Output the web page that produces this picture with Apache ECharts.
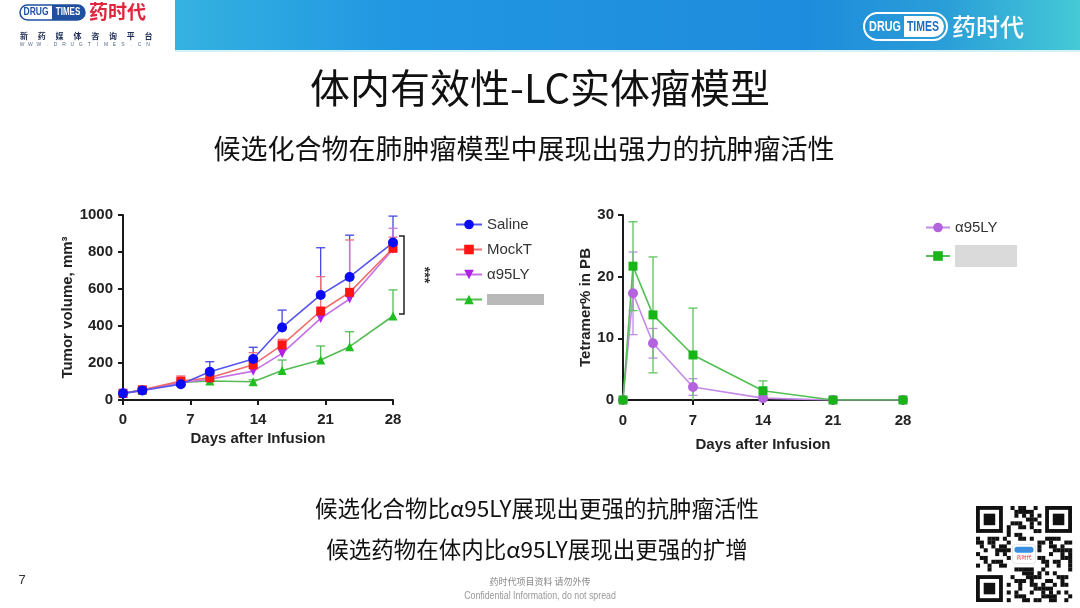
<!DOCTYPE html>
<html><head><meta charset="utf-8">
<script src="https://cdn.jsdelivr.net/npm/echarts@6/dist/echarts.min.js"></script>
<style>html,body{margin:0;padding:0;background:#fff}#c{width:1080px;height:608px}</style>
</head><body><div id="c"></div>
<script>
// ---------- data ----------
const dayTicks = [0, 7, 14, 21, 28];
const tumorTicks = [0, 200, 400, 600, 800, 1000];
const pbTicks = [0, 10, 20, 30];

const tumorDays = [0, 2, 6, 9, 13.5, 16.5, 20.5, 23.5, 28];
const salineMean = [36, 52, 85, 153, 222, 392, 568, 665, 851];
const salineErr  = [8, 10, 12, 54, 63, 94, 255, 226, 143];
const mockTMean  = [35, 55, 102, 120, 190, 298, 481, 582, 820];
const mockTErr   = [6, 10, 28, 15, 66, 30, 186, 283, 60];
const a95TumorMean = [36, 52, 95, 112, 156, 252, 441, 546, 815];
const a95TumorErr  = [5, 8, 15, 12, 20, 30, 40, 45, 113];
const candTumorMean = [36, 52, 95, 103, 99, 159, 216, 288, 454];
const candTumorErr  = [5, 6, 10, 8, 10, 57, 76, 81, 141];

const pbDays = [0, 1, 3, 7, 14, 21, 28];
const a95PbMean = [0, 17.3, 9.2, 2.1, 0.3, 0, 0];
const a95PbErr  = [0, 6.7, 2.4, 1.35, 0.3, 0, 0];
const candPbMean = [0, 21.7, 13.8, 7.3, 1.5, 0, 0];
const candPbErr  = [0, 7.2, 9.4, 7.6, 1.6, 0, 0];

const tumorNames = ['Saline', 'MockT', 'α95LY', '候选药物'];
const pbNames = ['α95LY ', '候选药物 '];
const BLUR_NAMES = ['候选药物', '候选药物 '];

// ---------- styles ----------
const FL = '"Liberation Sans", Arial, sans-serif';
const FC = '"Noto Sans CJK SC", sans-serif';
const AX = '#1a1a1a';

function xAx(gi, margin, gap) {
  return {
    type: 'value', gridIndex: gi, min: dayTicks[0], max: dayTicks[dayTicks.length - 1],
    interval: dayTicks[1] - dayTicks[0],
    name: 'Days after Infusion', nameLocation: 'middle', nameGap: gap,
    nameTextStyle: { fontFamily: FL, fontWeight: 'bold', fontSize: 15, color: '#222' },
    axisLine: { show: true, onZero: false, lineStyle: { color: AX, width: 2 } },
    axisTick: { show: true, length: 5, lineStyle: { color: AX, width: 2 } },
    axisLabel: { margin, fontFamily: FL, fontWeight: 'bold', fontSize: 15, color: '#222', formatter: v => String(v) },
    splitLine: { show: false }
  };
}
function yAx(gi, ticks, name, margin, gap) {
  return {
    type: 'value', gridIndex: gi, min: ticks[0], max: ticks[ticks.length - 1],
    interval: ticks[1] - ticks[0],
    name, nameLocation: 'middle', nameGap: gap,
    nameTextStyle: { fontFamily: FL, fontWeight: 'bold', fontSize: 15, color: '#222' },
    axisLine: { show: true, onZero: false, lineStyle: { color: AX, width: 2 } },
    axisTick: { show: true, length: 5, lineStyle: { color: AX, width: 2 } },
    axisLabel: { margin, fontFamily: FL, fontWeight: 'bold', fontSize: 15, color: '#222', formatter: v => String(v) },
    splitLine: { show: false }
  };
}
function lineS(name, gi, days, mean, symbol, size, mColor, lColor, rotate) {
  return {
    type: 'line', name, xAxisIndex: gi, yAxisIndex: gi, z: 3,
    data: days.map((d, i) => [d, mean[i]]),
    symbol, symbolSize: size, symbolRotate: rotate || 0, showAllSymbol: true,
    itemStyle: { color: mColor },
    lineStyle: { color: lColor, width: 1.6 },
    emphasis: { disabled: true }, animation: false
  };
}
function errS(gi, days, mean, err, color, both) {
  return {
    type: 'custom', xAxisIndex: gi, yAxisIndex: gi, z: 2, silent: true, animation: false,
    data: days.map((d, i) => [d, mean[i], err[i]]),
    renderItem(params, api) {
      const x = api.value(0), m = api.value(1), e = api.value(2);
      if (!e) return null;
      const top = api.coord([x, m + e]);
      const lowV = both ? Math.max(0, m - e) : m;
      const bot = api.coord([x, lowV]);
      const w = 4.5, st = { stroke: color, lineWidth: 1.3 };
      const ch = [
        { type: 'line', shape: { x1: top[0], y1: top[1], x2: bot[0], y2: bot[1] }, style: st },
        { type: 'line', shape: { x1: top[0] - w, y1: top[1], x2: top[0] + w, y2: top[1] }, style: st }
      ];
      if (both && m - e > 0) ch.push({ type: 'line', shape: { x1: bot[0] - w, y1: bot[1], x2: bot[0] + w, y2: bot[1] }, style: st });
      return { type: 'group', children: ch };
    }
  };
}

// ---------- header / decoration graphics ----------
const g = [];
g.push({ type: 'rect', shape: { x: 175, y: 0, width: 905, height: 50 }, z: -10,
  style: { fill: new echarts.graphic.LinearGradient(0, 0, 1, 0, [
    { offset: 0, color: '#34b2e0' }, { offset: 0.25, color: '#2196e2' },
    { offset: 0.7, color: '#1e8cdc' }, { offset: 0.85, color: '#2a9ed8' }, { offset: 1, color: '#45c9d6' }]) } });
g.push({ type: 'rect', shape: { x: 175, y: 50, width: 905, height: 2 }, z: -10, style: { fill: '#d7f1f8' } });
// left logo
g.push({ type: 'rect', shape: { x: 20, y: 5, width: 65, height: 15, r: 7.5 }, style: { fill: '#fff', stroke: '#1f4f9e', lineWidth: 1.5 } });
g.push({ type: 'rect', shape: { x: 52, y: 5, width: 33, height: 15, r: [0, 7.5, 7.5, 0] }, style: { fill: '#1f4f9e' } });
g.push({ type: 'text', x: 36, y: 12.5, scaleX: 0.85, style: { text: 'DRUG', fill: '#1f4f9e', font: 'bold 10px ' + FL, align: 'center', verticalAlign: 'middle' } });
g.push({ type: 'text', x: 68, y: 12.5, scaleX: 0.8, style: { text: 'TIMES', fill: '#fff', font: 'bold 10px ' + FL, align: 'center', verticalAlign: 'middle' } });
g.push({ type: 'text', x: 89, y: 12, style: { text: '药时代', fill: '#e0263c', font: 'bold 19px ' + FC, verticalAlign: 'middle' } });
'新药媒体咨询平台'.split('').forEach((c, i) => g.push({ type: 'text', x: 24 + i * 17.8, y: 36, style: { text: c, fill: '#1d2c55', font: 'bold 8px ' + FC, align: 'center', verticalAlign: 'middle' } }));
'WWW.DRUGTIMES.CN'.split('').forEach((c, i) => g.push({ type: 'text', x: 22 + i * 8.4, y: 45, style: { text: c, fill: '#5a6a8a', font: '5px ' + FL, align: 'center', verticalAlign: 'middle' } }));
// right logo
g.push({ type: 'rect', shape: { x: 864, y: 13, width: 83, height: 27, r: 13.5 }, style: { fill: 'rgba(0,0,0,0)', stroke: '#fff', lineWidth: 2 } });
g.push({ type: 'rect', shape: { x: 904, y: 16, width: 40, height: 21, r: [0, 10.5, 10.5, 0] }, style: { fill: '#fff' } });
g.push({ type: 'text', x: 885, y: 26.5, scaleX: 0.72, style: { text: 'DRUG', fill: '#fff', font: 'bold 15px ' + FL, align: 'center', verticalAlign: 'middle' } });
g.push({ type: 'text', x: 923, y: 26.5, scaleX: 0.7, style: { text: 'TIMES', fill: '#1f6fc0', font: 'bold 15px ' + FL, align: 'center', verticalAlign: 'middle' } });
g.push({ type: 'text', x: 952, y: 27, style: { text: '药时代', fill: '#fff', font: '500 24px ' + FC, verticalAlign: 'middle' } });
// titles
g.push({ type: 'text', x: 540, y: 88, style: { text: '体内有效性-LC实体瘤模型', fill: '#111', font: '400 40px ' + FC, align: 'center', verticalAlign: 'middle' } });
g.push({ type: 'text', x: 524, y: 149, style: { text: '候选化合物在肺肿瘤模型中展现出强力的抗肿瘤活性', fill: '#111', font: '27px ' + FC, align: 'center', verticalAlign: 'middle' } });
g.push({ type: 'text', x: 537, y: 508, style: { text: '候选化合物比α95LY展现出更强的抗肿瘤活性', fill: '#111', font: '22.5px ' + FC, align: 'center', verticalAlign: 'middle' } });
g.push({ type: 'text', x: 537, y: 549, style: { text: '候选药物在体内比α95LY展现出更强的扩增', fill: '#111', font: '22.5px ' + FC, align: 'center', verticalAlign: 'middle' } });
// footer
g.push({ type: 'text', x: 22, y: 580, style: { text: '7', fill: '#333', font: '13px ' + FL, align: 'center', verticalAlign: 'middle' } });
g.push({ type: 'text', x: 540, y: 582, style: { text: '药时代项目资料 请勿外传', fill: '#888', font: '9px ' + FC, align: 'center', verticalAlign: 'middle' } });
g.push({ type: 'text', x: 540, y: 596, scaleX: 0.8, style: { text: 'Confidential Information, do not spread', fill: '#999', font: '11px ' + FL, align: 'center', verticalAlign: 'middle' } });
// QR code decoration
(function () {
  const N = 25, x0 = 976, y0 = 506, s = 3.84;
  g.push({ type: 'rect', shape: { x: x0 - 2, y: y0 - 2, width: N * s + 4, height: N * s + 4 }, style: { fill: '#fff' } });
  function finder(cx, cy) {
    g.push({ type: 'rect', shape: { x: x0 + cx * s, y: y0 + cy * s, width: 7 * s, height: 7 * s }, style: { fill: '#111' } });
    g.push({ type: 'rect', shape: { x: x0 + (cx + 1) * s, y: y0 + (cy + 1) * s, width: 5 * s, height: 5 * s }, style: { fill: '#fff' } });
    g.push({ type: 'rect', shape: { x: x0 + (cx + 2) * s, y: y0 + (cy + 2) * s, width: 3 * s, height: 3 * s }, style: { fill: '#111' } });
  }
  finder(0, 0); finder(N - 7, 0); finder(0, N - 7);
  for (let i = 0; i < N; i++) for (let j = 0; j < N; j++) {
    const inF = (i < 8 && j < 8) || (i < 8 && j >= N - 8) || (i >= N - 8 && j < 8);
    const inC = i >= 9 && i <= 15 && j >= 9 && j <= 15;
    if (inF || inC) continue;
    if (((i * 7 + j * 11 + (i * j) % 5) % 3) === 0 || ((i + 2 * j) % 7 === 1))
      g.push({ type: 'rect', shape: { x: x0 + j * s, y: y0 + i * s, width: s + 0.2, height: s + 0.2 }, style: { fill: '#111' } });
  }
  g.push({ type: 'rect', shape: { x: x0 + 9.5 * s, y: y0 + 10 * s, width: 6 * s, height: 5 * s, r: 3 }, style: { fill: '#fff', stroke: '#ccc', lineWidth: 0.5 } });
  g.push({ type: 'rect', shape: { x: x0 + 10 * s, y: y0 + 10.6 * s, width: 5 * s, height: 1.6 * s, r: 3 }, style: { fill: '#3a8ee0' } });
  g.push({ type: 'text', x: x0 + 12.5 * s, y: y0 + 13.3 * s, style: { text: '药时代', fill: '#e0263c', font: '5px ' + FC, align: 'center', verticalAlign: 'middle' } });
})();

// ---------- chart ----------
const chart = echarts.init(document.getElementById('c'));
const legendFmt = n => BLUR_NAMES.includes(n) ? (n === BLUR_NAMES[0] ? '{b1|}' : '{b2|}') : n;
const richBlur = { b1: { width: 57, height: 11, backgroundColor: '#b9b9b9' }, b2: { width: 62, height: 22, backgroundColor: '#dadada' } };
const option = {
  backgroundColor: '#fff',
  animation: false,
  grid: [
    { left: 123, top: 215, width: 270, height: 185 },
    { left: 623, top: 215, width: 280, height: 185 }
  ],
  xAxis: [xAx(0, 12, 31), xAx(1, 13, 37)],
  yAxis: [yAx(0, tumorTicks, 'Tumor volume, mm³', 10, 48), yAx(1, pbTicks, 'Tetramer% in PB', 9, 30)],
  legend: [
    { data: tumorNames, orient: 'vertical', left: 455, top: 217, padding: 0, itemWidth: 26, itemHeight: 12, itemGap: 10,
      formatter: legendFmt, selectedMode: false,
      textStyle: { fontFamily: FL, fontSize: 15, color: '#333', rich: richBlur } },
    { data: pbNames, orient: 'vertical', left: 925, top: 220, padding: 0, itemWidth: 24, itemHeight: 12, itemGap: 10,
      formatter: legendFmt, selectedMode: false,
      textStyle: { fontFamily: FL, fontSize: 15, color: '#333', rich: richBlur } }
  ],
  series: [
    errS(0, tumorDays, salineMean, salineErr, '#4646e6', false),
    errS(0, tumorDays, mockTMean, mockTErr, '#ef6f7f', false),
    errS(0, tumorDays, a95TumorMean, a95TumorErr, '#c37ae0', false),
    errS(0, tumorDays, candTumorMean, candTumorErr, '#55bb55', false),
    lineS(tumorNames[3], 0, tumorDays, candTumorMean, 'triangle', 9, '#1fbf1f', '#55bb55'),
    lineS(tumorNames[2], 0, tumorDays, a95TumorMean, 'triangle', 9, '#b020e6', '#c570e6', 180),
    lineS(tumorNames[1], 0, tumorDays, mockTMean, 'rect', 9, '#ff1414', '#f06a6a'),
    lineS(tumorNames[0], 0, tumorDays, salineMean, 'circle', 10, '#0a0af5', '#5555ee'),
    errS(1, pbDays, a95PbMean, a95PbErr, '#c08ce6', true),
    errS(1, pbDays, candPbMean, candPbErr, '#5cc45c', true),
    lineS(pbNames[0], 1, pbDays, a95PbMean, 'circle', 10, '#b463de', '#c48ae6'),
    lineS(pbNames[1], 1, pbDays, candPbMean, 'rect', 9, '#18b418', '#52c052')
  ],
  graphic: g
};
chart.setOption(option);

// significance bracket (annotation) placed from data values
const bTop = chart.convertToPixel({ gridIndex: 0 }, [28, 886]);
const bBot = chart.convertToPixel({ gridIndex: 0 }, [28, 465]);
const bx = bTop[0] + 11;
chart.setOption({ graphic: g.concat([
  { type: 'polyline', shape: { points: [[bx - 5, bTop[1]], [bx, bTop[1]], [bx, bBot[1]], [bx - 5, bBot[1]]] }, style: { stroke: '#222', lineWidth: 1.5, fill: null } },
  { type: 'text', x: bx + 20, y: (bTop[1] + bBot[1]) / 2, rotation: -Math.PI / 2,
    style: { text: '***', fill: '#333', font: 'bold 14px ' + FL, align: 'center', verticalAlign: 'middle' } }
]) });
</script></body></html>
